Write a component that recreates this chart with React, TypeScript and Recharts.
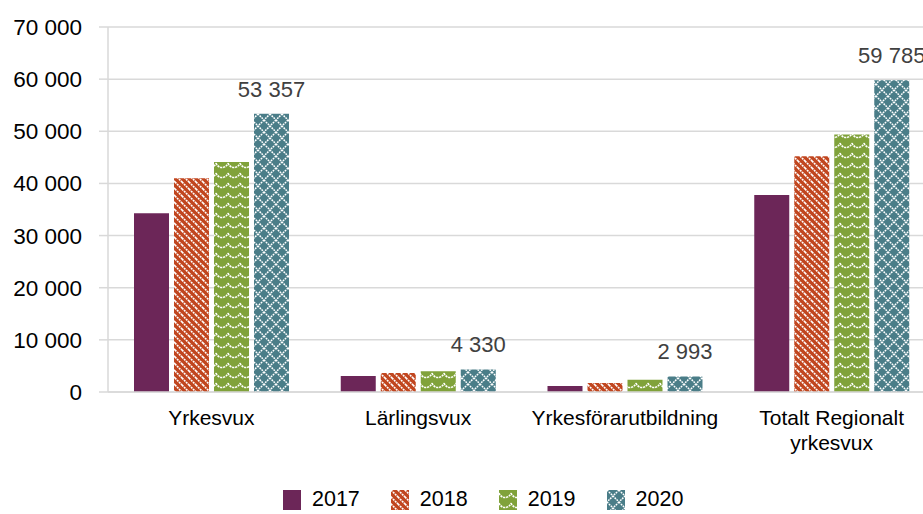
import { BarChart, Bar, XAxis, YAxis, CartesianGrid, LabelList } from "recharts";

const categories = ["Yrkesvux", "Lärlingsvux", "Yrkesförarutbildning", "Totalt Regionalt yrkesvux"];
const years = ["2017", "2018", "2019", "2020"];
const values2017 = [34300, 3050, 1150, 37800];
const values2018 = [41000, 3650, 1750, 45200];
const values2019 = [44100, 4000, 2350, 49400];
const values2020 = [53357, 4330, 2993, 59785];
const yTicks = [0, 10000, 20000, 30000, 40000, 50000, 60000, 70000];

const colors = ["#6c2658", "#c1461f", "#80a23a", "#4a7d88"];
const fills = ["#6c2658", "url(#p2018)", "url(#p2019)", "url(#p2020)"];
const FONT = "'Liberation Sans', Arial, sans-serif";

const data = categories.map((name, i) => ({
  name,
  y2017: values2017[i],
  y2018: values2018[i],
  y2019: values2019[i],
  y2020: values2020[i],
}));

const fmt = (v: number) => String(v).replace(/\B(?=(\d{3})+(?!\d))/g, " ");

function wrapWords(text: string, maxChars: number) {
  const lines: string[] = [];
  let cur = "";
  for (const w of text.split(" ")) {
    if (cur && (cur + " " + w).length > maxChars) {
      lines.push(cur);
      cur = w;
    } else {
      cur = cur ? cur + " " + w : w;
    }
  }
  if (cur) lines.push(cur);
  return lines;
}

function CategoryTick(props: any) {
  const { x, y, payload } = props;
  const lines = wrapWords(payload.value, 17);
  return (
    <text x={x} y={y} textAnchor="middle" fontFamily={FONT} fontSize={21} fill="#000">
      {lines.map((l, i) => (
        <tspan key={i} x={x} dy={i === 0 ? 33 : 25}>{l}</tspan>
      ))}
    </text>
  );
}

function ValueLabel(props: any) {
  const { x, y, width, value } = props;
  return (
    <text x={x + width / 2} y={y - 17} textAnchor="middle" fontFamily={FONT} fontSize={22} fill="#404040">
      {fmt(Number(value))}
    </text>
  );
}

function Patterns() {
  return (
    <defs>
      <pattern id="p2018" width="7" height="7" patternUnits="userSpaceOnUse">
        <rect width="7" height="7" fill={colors[1]} />
        <path d="M0,0 L7,7 M-1,6 L1,8 M6,-1 L8,1" stroke="#fff" strokeWidth="1.6" strokeDasharray="2 0.8" />
      </pattern>
      <pattern id="p2019" width="12" height="10" patternUnits="userSpaceOnUse">
        <rect width="12" height="10" fill={colors[2]} />
        <path d="M0,3 C2,9 10,9 12,3" stroke="#fff" strokeWidth="1.6" fill="none" strokeDasharray="2.2 0.8" />
      </pattern>
      <pattern id="p2020" width="12" height="12" patternUnits="userSpaceOnUse">
        <rect width="12" height="12" fill={colors[3]} />
        <path d="M0,0 L12,12 M12,0 L0,12" stroke="#fff" strokeWidth="1.5" strokeDasharray="1.8 0.9" />
      </pattern>
    </defs>
  );
}

export default function App() {
  return (
    <div style={{ position: "absolute", left: 0, top: 0, width: 923, height: 514, background: "#fff", overflow: "hidden" }}>
      <svg width="0" height="0" style={{ position: "absolute" }}>
        <Patterns />
      </svg>
      <BarChart
        width={935}
        height={514}
        data={data}
        margin={{ top: 27, right: 0, bottom: 62, left: 0 }}
        barSize={35}
        barGap={5}
      >
        <CartesianGrid vertical={false} stroke="#d9d9d9" strokeWidth={1.5} />
        <XAxis
          dataKey="name"
          height={60}
          tickLine={false}
          tickSize={0}
          tickMargin={0}
          axisLine={{ stroke: "#d9d9d9", strokeWidth: 1.5 }}
          tick={<CategoryTick />}
          interval={0}
        />
        <YAxis
          width={108}
          domain={[0, 70000]}
          ticks={yTicks}
          tickFormatter={fmt}
          tickSize={9}
          tickMargin={17}
          axisLine={{ stroke: "#d9d9d9", strokeWidth: 1.5 }}
          tickLine={{ stroke: "#d9d9d9", strokeWidth: 1.5 }}
          tick={{ fontFamily: FONT, fontSize: 22.5, fill: "#000" }}
        />
        <Bar dataKey="y2017" name={years[0]} fill={fills[0]} isAnimationActive={false} />
        <Bar dataKey="y2018" name={years[1]} fill={fills[1]} isAnimationActive={false} />
        <Bar dataKey="y2019" name={years[2]} fill={fills[2]} isAnimationActive={false} />
        <Bar dataKey="y2020" name={years[3]} fill={fills[3]} isAnimationActive={false}>
          <LabelList dataKey="y2020" content={<ValueLabel />} />
        </Bar>
      </BarChart>
      <div
        style={{
          position: "absolute",
          top: 487,
          left: 283,
          display: "flex",
          alignItems: "center",
          fontFamily: FONT,
          fontSize: 21.5,
          color: "#000",
        }}
      >
        {years.map((y, i) => (
          <div key={y} style={{ display: "flex", alignItems: "center", marginRight: 31 }}>
            <svg width={18} height={20} style={{ marginRight: 11 }}>
              <rect width={18} height={20} fill={fills[i]} />
            </svg>
            <span>{y}</span>
          </div>
        ))}
      </div>
    </div>
  );
}
